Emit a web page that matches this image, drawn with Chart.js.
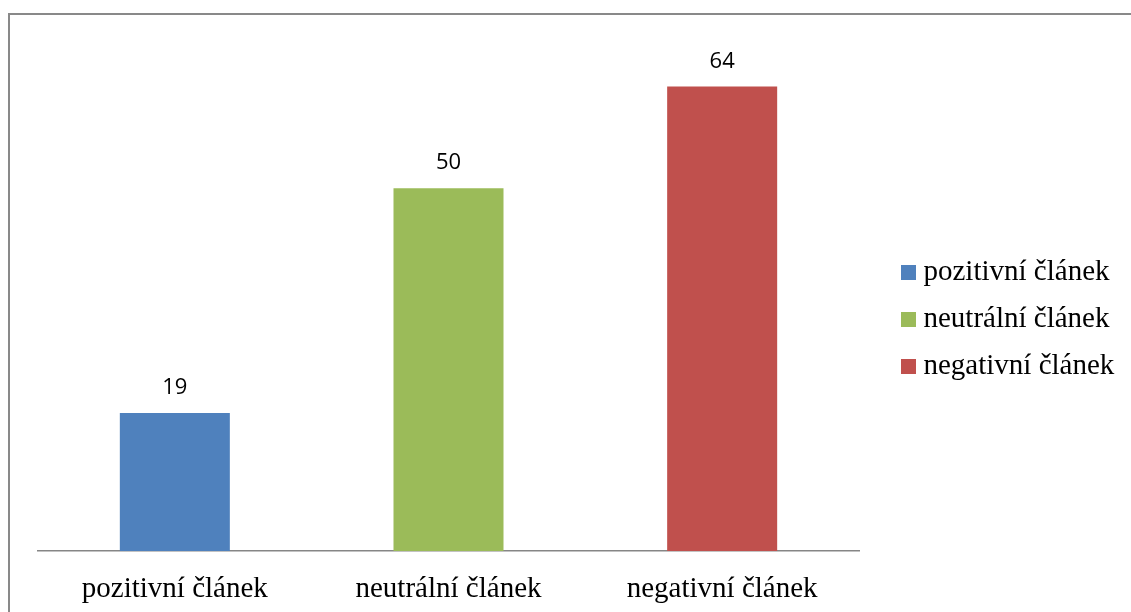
<!DOCTYPE html>
<html><head><meta charset="utf-8">
<script src="https://cdn.jsdelivr.net/npm/chart.js@4.4.1/dist/chart.umd.min.js"></script>
<style>
html,body{margin:0;padding:0;background:#fff;overflow:hidden}
#wrap{position:relative;width:1131px;height:612px}
#frame{position:absolute;left:8px;top:13px;width:1200px;height:700px;border-left:2px solid #898989;border-top:2px solid #898989;pointer-events:none}
</style></head><body>
<div id="wrap"><canvas id="c"></canvas><div id="frame"></div></div>
<script>
const categories = ['pozitivní článek', 'neutrální článek', 'negativní článek'];
const values = [19, 50, 64];
const barColors = ['#4F81BD', '#9BBB59', '#C0504D'];
const yMin = 0, yMax = 70;

const serif = '"Liberation Serif", "Times New Roman", serif';

const valueLabels = {
  id: 'valueLabels',
  afterDatasetsDraw(chart) {
    const ctx = chart.ctx;
    const meta = chart.getDatasetMeta(0);
    ctx.save();
    ctx.font = '22px "Open Sans", sans-serif';
    ctx.fillStyle = '#000';
    ctx.textAlign = 'center';
    ctx.textBaseline = 'alphabetic';
    meta.data.forEach((bar, i) => {
      ctx.fillText(String(chart.data.datasets[0].data[i]), bar.x, bar.y - 19);
    });
    ctx.restore();
  }
};

const legendPlace = {
  id: 'legendPlace',
  beforeLayout(chart) {
    const lg = chart.legend;
    if (!lg || lg._patched) return;
    const fit = lg.fit.bind(lg);
    lg.fit = function () { fit(); this.width = 272; };
    lg._patched = true;
  },
  afterLayout(chart) {
    const lg = chart.legend;
    if (!lg) return;
    lg.left = chart.chartArea.right + 31;
    lg.top = 27;
    lg.bottom = 612;
  }
};

new Chart(document.getElementById('c'), {
  type: 'bar',
  data: {
    labels: categories,
    datasets: [{
      data: values,
      backgroundColor: barColors,
      borderWidth: 0,
      categoryPercentage: 1,
      barPercentage: 0.402
    }]
  },
  options: {
    responsive: true,
    maintainAspectRatio: false,
    animation: false,
    layout: { padding: { left: 38, top: 43, right: 0, bottom: 0 } },
    plugins: {
      tooltip: { enabled: false },
      legend: {
        position: 'right',
        align: 'center',
        labels: {
          usePointStyle: true,
          boxWidth: 1,
          boxHeight: 15,
          padding: 18,
          color: '#000',
          font: { family: serif, size: 29 },
          generateLabels() {
            return categories.map((c, i) => ({
              text: c, fillStyle: barColors[i], strokeStyle: barColors[i],
              lineWidth: 0, pointStyle: 'rect', hidden: false, index: i, datasetIndex: 0
            }));
          }
        }
      }
    },
    scales: {
      x: {
        grid: { display: false, drawTicks: false },
        border: { display: true, color: '#868686', width: 1.5 },
        ticks: { color: '#000', font: { family: serif, size: 29 }, padding: 21, maxRotation: 0 },
        afterFit(scale) { scale.height = 61; }
      },
      y: { display: false, min: yMin, max: yMax }
    }
  },
  plugins: [valueLabels, legendPlace]
});
</script>
</body></html>
